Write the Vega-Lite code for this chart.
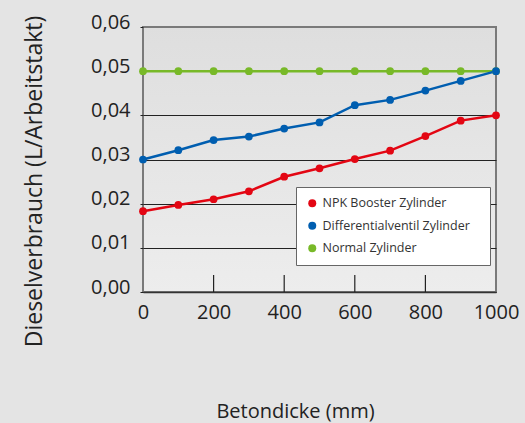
{
  "$schema": "https://vega.github.io/schema/vega-lite/v6.json",
  "autosize": "none",
  "width": 353,
  "height": 265,
  "padding": {"left": 143, "top": 27, "right": 29, "bottom": 131},
  "background": "#e4e4e4",
  "config": {
    "font": "Open Sans",
    "view": {
      "stroke": "#7a7a7a",
      "strokeWidth": 2,
      "fill": {"gradient": "linear", "x1": 0, "y1": 0, "x2": 0, "y2": 1, "stops": [{"offset": 0, "color": "#dedede"}, {"offset": 1, "color": "#ededed"}]}
    }
  },
  "layer": [
    {
      "data": {
        "values": [
          {"Betondicke": 0, "Verbrauch": 0.05, "Serie": "Normal Zylinder"},
          {"Betondicke": 100, "Verbrauch": 0.05, "Serie": "Normal Zylinder"},
          {"Betondicke": 200, "Verbrauch": 0.05, "Serie": "Normal Zylinder"},
          {"Betondicke": 300, "Verbrauch": 0.05, "Serie": "Normal Zylinder"},
          {"Betondicke": 400, "Verbrauch": 0.05, "Serie": "Normal Zylinder"},
          {"Betondicke": 500, "Verbrauch": 0.05, "Serie": "Normal Zylinder"},
          {"Betondicke": 600, "Verbrauch": 0.05, "Serie": "Normal Zylinder"},
          {"Betondicke": 700, "Verbrauch": 0.05, "Serie": "Normal Zylinder"},
          {"Betondicke": 800, "Verbrauch": 0.05, "Serie": "Normal Zylinder"},
          {"Betondicke": 900, "Verbrauch": 0.05, "Serie": "Normal Zylinder"},
          {"Betondicke": 1000, "Verbrauch": 0.05, "Serie": "Normal Zylinder"},
          {"Betondicke": 0, "Verbrauch": 0.030, "Serie": "Differentialventil Zylinder"},
          {"Betondicke": 100, "Verbrauch": 0.0321, "Serie": "Differentialventil Zylinder"},
          {"Betondicke": 200, "Verbrauch": 0.0344, "Serie": "Differentialventil Zylinder"},
          {"Betondicke": 300, "Verbrauch": 0.0352, "Serie": "Differentialventil Zylinder"},
          {"Betondicke": 400, "Verbrauch": 0.0370, "Serie": "Differentialventil Zylinder"},
          {"Betondicke": 500, "Verbrauch": 0.0384, "Serie": "Differentialventil Zylinder"},
          {"Betondicke": 600, "Verbrauch": 0.0423, "Serie": "Differentialventil Zylinder"},
          {"Betondicke": 700, "Verbrauch": 0.0435, "Serie": "Differentialventil Zylinder"},
          {"Betondicke": 800, "Verbrauch": 0.0456, "Serie": "Differentialventil Zylinder"},
          {"Betondicke": 900, "Verbrauch": 0.0478, "Serie": "Differentialventil Zylinder"},
          {"Betondicke": 1000, "Verbrauch": 0.050, "Serie": "Differentialventil Zylinder"},
          {"Betondicke": 0, "Verbrauch": 0.0183, "Serie": "NPK Booster Zylinder"},
          {"Betondicke": 100, "Verbrauch": 0.0197, "Serie": "NPK Booster Zylinder"},
          {"Betondicke": 200, "Verbrauch": 0.0210, "Serie": "NPK Booster Zylinder"},
          {"Betondicke": 300, "Verbrauch": 0.0228, "Serie": "NPK Booster Zylinder"},
          {"Betondicke": 400, "Verbrauch": 0.0261, "Serie": "NPK Booster Zylinder"},
          {"Betondicke": 500, "Verbrauch": 0.0280, "Serie": "NPK Booster Zylinder"},
          {"Betondicke": 600, "Verbrauch": 0.0301, "Serie": "NPK Booster Zylinder"},
          {"Betondicke": 700, "Verbrauch": 0.0320, "Serie": "NPK Booster Zylinder"},
          {"Betondicke": 800, "Verbrauch": 0.0353, "Serie": "NPK Booster Zylinder"},
          {"Betondicke": 900, "Verbrauch": 0.0388, "Serie": "NPK Booster Zylinder"},
          {"Betondicke": 1000, "Verbrauch": 0.0400, "Serie": "NPK Booster Zylinder"}
        ]
      },
      "mark": {"type": "line", "strokeWidth": 2.5, "point": {"filled": true, "size": 60, "opacity": 1}},
      "encoding": {
        "x": {
          "field": "Betondicke",
          "type": "quantitative",
          "scale": {"domain": [0, 1000], "nice": false},
          "axis": {
            "title": "Betondicke (mm)",
            "titleFontSize": 20,
            "titleFontWeight": "normal",
            "titleColor": "#222",
            "titleX": 152,
            "titleY": 119,
            "titleBaseline": "middle",
            "titleAnchor": null,
            "values": [0, 200, 400, 600, 800, 1000],
            "format": "d",
            "labelFontSize": 20,
            "labelColor": "#222",
            "labelPadding": 10,
            "labelFlush": false,
            "ticks": false,
            "domainColor": "#333",
            "domainWidth": 1.5,
            "grid": false
          }
        },
        "y": {
          "field": "Verbrauch",
          "type": "quantitative",
          "scale": {"domain": [0, 0.06], "nice": false},
          "axis": {
            "title": "Dieselverbrauch (L/Arbeitstakt)",
            "titleFontSize": 23,
            "titleFontWeight": "normal",
            "titleColor": "#222",
            "titleX": -109,
            "titleY": 154,
            "titleAlign": "center",
            "titleBaseline": "middle",
            "titleAngle": -90,
            "titleAnchor": null,
            "values": [0, 0.01, 0.02, 0.03, 0.04, 0.05, 0.06],
            "labelExpr": "replace(format(datum.value, '.2f'), '.', ',')",
            "labelFontSize": 20,
            "labelColor": "#222",
            "labelPadding": 10,
            "labelOffset": -5,
            "tickSize": 3,
            "tickColor": "#222",
            "domain": false,
            "grid": true,
            "gridColor": {"condition": {"test": "datum.value > 0.045", "value": "transparent"}, "value": "#222"},
            "gridWidth": 1
          }
        },
        "color": {
          "field": "Serie",
          "type": "nominal",
          "scale": {
            "domain": ["NPK Booster Zylinder", "Differentialventil Zylinder", "Normal Zylinder"],
            "range": ["#e30613", "#005eb0", "#78b928"]
          },
          "legend": {
            "orient": "none",
            "legendX": 153,
            "legendY": 160,
            "title": "\u00a0",
            "titleOrient": "right",
            "titlePadding": 10,
            "titleFontSize": 11,
            "fillColor": "white",
            "strokeColor": "#666",
            "padding": 10,
            "symbolType": "circle",
            "symbolSize": 64,
            "symbolStrokeWidth": 0,
            "labelFontSize": 12.5,
            "labelColor": "#333",
            "labelOffset": 4,
            "rowPadding": 9.5,
            "cornerRadius": 0
          }
        }
      }
    },
    {
      "data": {"values": [{"Betondicke": 200}, {"Betondicke": 400}, {"Betondicke": 600}, {"Betondicke": 800}]},
      "mark": {"type": "rule", "color": "#222", "strokeWidth": 1.2},
      "encoding": {
        "x": {"field": "Betondicke", "type": "quantitative"},
        "y": {"datum": 0},
        "y2": {"datum": 0.00385}
      }
    }
  ]
}
